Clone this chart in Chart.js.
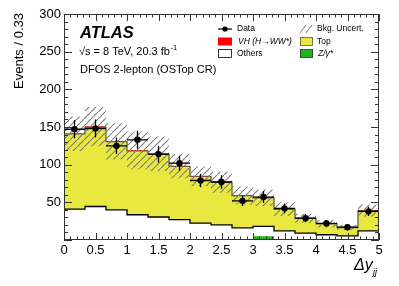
<!DOCTYPE html>
<html>
<head>
<meta charset="utf-8">
<script src="https://cdn.jsdelivr.net/npm/chart.js@4"></script>
<style>
  html, body { margin: 0; padding: 0; background: #fff; }
  canvas { display: block; }
</style>
</head>
<body>
<canvas id="dy-chart" width="399" height="286"></canvas>
<script>
// bin edges of delta y_jj (width 0.33)
const binEdges = [0, 0.3333, 0.6667, 1, 1.3333, 1.6667, 2, 2.3333, 2.6667, 3, 3.3333, 3.6667, 4, 4.3333, 4.6667, 5];

// stacked backgrounds, bottom to top
const zjets  = [0, 0, 0, 0, 0, 0, 0, 0, 0, 5, 0, 0, 0, 0, 0];
const others = [41, 44.5, 40, 33.5, 30.5, 27, 22.5, 20, 16, 13, 12, 9, 7, 5.5, 12];
const topBkg = [99.8, 105.3, 90.7, 84.9, 83.3, 70.7, 61.9, 56.4, 42.8, 37.8, 28.8, 19.9, 14.5, 11.1, 26.8];
const vhSig  = [0.2, 0.7, 0.3, 0.6, 0.7, 0.3, 0.3, 0.3, 0.2, 0.2, 0.2, 0.1, 0.1, 0.1, 0.2];
const bkgUnc = [23, 26, 24, 25, 23, 16, 13, 14, 12, 11, 9, 6, 5, 3.5, 8];

// observed data
const dataVals = [147, 148, 125, 133, 114, 102, 79, 77, 52, 57, 42, 29, 22, 17, 38];
const dataErrs = [12, 12, 11, 12, 11, 10, 9, 9, 7, 8, 6.5, 5.5, 4.5, 4, 6];

const FONT = "'Liberation Sans', Arial, Helvetica, sans-serif";

const sZ = zjets.slice();
const sOthers = sZ.map((v, i) => v + others[i]);
const sTop = sOthers.map((v, i) => v + topBkg[i]);
const sVH = sTop.map((v, i) => v + vhSig[i]);
const uncLo = sVH.map((v, i) => v - bkgUnc[i]);
const uncHi = sVH.map((v, i) => v + bkgUnc[i]);

function steps(vals) {
  const pts = vals.map((v, i) => ({ x: binEdges[i], y: v }));
  pts.push({ x: binEdges[binEdges.length - 1], y: vals[vals.length - 1] });
  return pts;
}
const centers = dataVals.map((v, i) => (binEdges[i] + binEdges[i + 1]) / 2);

function hatchPattern() {
  const c = document.createElement("canvas");
  c.width = 7; c.height = 7;
  const g = c.getContext("2d");
  g.strokeStyle = "#7a7a7a";
  g.lineWidth = 1.1;
  g.beginPath();
  g.moveTo(-1, 8); g.lineTo(8, -1);
  g.stroke();
  return g.createPattern(c, "repeat");
}
const hatch = hatchPattern();

const decor = {
  id: "decor",
  afterDatasetsDraw(chart) {
    const { ctx, scales: { x, y } } = chart;
    ctx.save();
    ctx.strokeStyle = "#000";
    ctx.lineWidth = 1.3;
    dataVals.forEach((v, i) => {
      const px = x.getPixelForValue(centers[i]);
      const py = y.getPixelForValue(v);
      ctx.beginPath();
      ctx.moveTo(x.getPixelForValue(binEdges[i]), py);
      ctx.lineTo(x.getPixelForValue(binEdges[i + 1]), py);
      ctx.moveTo(px, y.getPixelForValue(v - dataErrs[i]));
      ctx.lineTo(px, y.getPixelForValue(v + dataErrs[i]));
      ctx.stroke();
    });
    ctx.restore();
  },
  afterDraw(chart) {
    const { ctx, chartArea: a, scales: { x, y } } = chart;
    ctx.save();
    // frame + inward ticks on all four sides
    ctx.strokeStyle = "#333";
    ctx.lineWidth = 1;
    ctx.strokeRect(a.left + 0.5, a.top + 0.5, a.right - a.left - 1, a.bottom - a.top - 1);
    ctx.beginPath();
    for (let k = 0; k <= 30; k++) {
      const py = Math.round(y.getPixelForValue(k * 10)) + 0.5;
      const len = k % 5 === 0 ? 8 : 4;
      ctx.moveTo(a.left, py); ctx.lineTo(a.left + len, py);
      ctx.moveTo(a.right, py); ctx.lineTo(a.right - len, py);
    }
    for (let k = 0; k <= 50; k++) {
      const px = Math.round(x.getPixelForValue(k / 10)) + 0.5;
      const len = k % 5 === 0 ? 7 : 3.5;
      ctx.moveTo(px, a.bottom); ctx.lineTo(px, a.bottom - len);
      ctx.moveTo(px, a.top); ctx.lineTo(px, a.top + len);
    }
    ctx.stroke();

    ctx.fillStyle = "#000";
    ctx.textBaseline = "middle";
    // axis titles
    ctx.save();
    ctx.translate(19, 13);
    ctx.rotate(-Math.PI / 2);
    ctx.textAlign = "right";
    ctx.font = "13px " + FONT;
    ctx.fillText("Events / 0.33", 0, 0);
    ctx.restore();

    ctx.textAlign = "left";
    ctx.font = "italic 16px " + FONT;
    ctx.fillText("\u0394y", 354, 266);
    ctx.font = "italic 9px " + FONT;
    ctx.fillText("jj", 373, 272);

    // ATLAS label block
    ctx.font = "bold italic 16.5px " + FONT;
    ctx.fillText("ATLAS", 80, 33);
    ctx.font = "11px " + FONT;
    const lumi = "\u221As = 8 TeV, 20.3 fb";
    ctx.fillText(lumi, 79, 52);
    const lw = ctx.measureText(lumi).width;
    ctx.font = "7.5px " + FONT;
    ctx.fillText("-1", 79 + lw + 0.5, 48);
    ctx.font = "11px " + FONT;
    ctx.fillText("DFOS 2-lepton (OSTop CR)", 80, 70);

    // legend
    ctx.font = "8.5px " + FONT;
    const r1 = 29, r2 = 41.5, r3 = 53.5;
    ctx.lineWidth = 1.2;
    ctx.strokeStyle = "#000";
    ctx.beginPath(); ctx.moveTo(218, r1); ctx.lineTo(232, r1); ctx.stroke();
    ctx.beginPath(); ctx.arc(225, r1, 2.6, 0, Math.PI * 2); ctx.fill();
    ctx.fillText("Data", 237, r1);

    ctx.fillStyle = "#ff0000";
    ctx.fillRect(218, r2 - 4, 14, 8);
    ctx.fillStyle = "#000";
    ctx.font = "italic 8.5px " + FONT;
    ctx.fillText("VH (H\u2192WW*)", 238, r2);

    ctx.lineWidth = 0.8;
    ctx.strokeRect(218.5, r3 - 4, 13, 8);
    ctx.font = "8.5px " + FONT;
    ctx.fillText("Others", 237, r3);

    ctx.strokeStyle = "#7a7a7a";
    ctx.lineWidth = 1;
    ctx.beginPath();
    ctx.moveTo(300, r1 + 4); ctx.lineTo(306, r1 - 4);
    ctx.moveTo(306, r1 + 4); ctx.lineTo(312, r1 - 4);
    ctx.stroke();
    ctx.fillText("Bkg. Uncert.", 317, r1);

    ctx.fillStyle = "#e8e841";
    ctx.fillRect(300, r2 - 4, 13, 8);
    ctx.strokeStyle = "#555";
    ctx.lineWidth = 0.8;
    ctx.strokeRect(300.5, r2 - 4, 12, 8);
    ctx.fillStyle = "#000";
    ctx.fillText("Top", 317, r2);

    ctx.fillStyle = "#1fb41f";
    ctx.fillRect(300, r3 - 4, 13, 8);
    ctx.strokeStyle = "#333";
    ctx.strokeRect(300.5, r3 - 4, 12, 8);
    ctx.fillStyle = "#000";
    ctx.font = "italic 8.5px " + FONT;
    ctx.fillText("Z/\u03B3*", 318, r3);
    ctx.restore();
  }
};

const stepLine = { pointRadius: 0, stepped: true, tension: 0 };

new Chart("dy-chart", {
  type: "line",
  data: {
    datasets: [
      { ...stepLine, label: "Z/gamma*", data: steps(sZ), fill: "origin", backgroundColor: "#1fb41f", borderWidth: 0, order: 10 },
      { ...stepLine, label: "Others", data: steps(sOthers), fill: false, borderColor: "#000", borderWidth: 1.3, order: 7 },
      { ...stepLine, label: "Top", data: steps(sTop), fill: "-1", backgroundColor: "#e8e841", borderColor: "#5e5e4a", borderWidth: 1.3, order: 9 },
      { ...stepLine, label: "VH", data: steps(sVH), fill: "-1", backgroundColor: "#ff0000", borderWidth: 0, order: 8 },
      { ...stepLine, label: "unc lo", data: steps(uncLo), fill: false, borderWidth: 0, order: 6 },
      { ...stepLine, label: "Bkg. Uncert.", data: steps(uncHi), fill: "-1", backgroundColor: hatch, borderWidth: 0, order: 5 },
      { type: "scatter", label: "Data", data: dataVals.map((v, i) => ({ x: centers[i], y: v })),
        pointRadius: 3.2, pointBackgroundColor: "#000", pointBorderWidth: 0, showLine: false, order: 1 }
    ]
  },
  options: {
    responsive: false,
    animation: false,
    layout: { padding: { top: 14, right: 20, left: 0, bottom: 0 } },
    plugins: {
      legend: { display: false },
      tooltip: { enabled: false },
      filler: { drawTime: "beforeDatasetDraw" }
    },
    scales: {
      x: {
        type: "linear", min: 0, max: 5,
        grid: { display: false, drawTicks: false }, border: { display: false },
        ticks: { stepSize: 0.5, padding: 3, color: "#000", font: { family: FONT, size: 13 }, maxRotation: 0,
          callback: (v) => String(Math.round(v * 10) / 10) },
        afterFit: (s) => { s.height = 46; }
      },
      y: {
        min: 0, max: 300,
        grid: { display: false, drawTicks: false }, border: { display: false },
        ticks: { stepSize: 50, padding: 3, color: "#000", font: { family: FONT, size: 13 },
          callback: (v) => (v === 0 ? "" : v) },
        afterFit: (s) => { s.width = 64; }
      }
    }
  },
  plugins: [decor]
});
</script>
</body>
</html>
